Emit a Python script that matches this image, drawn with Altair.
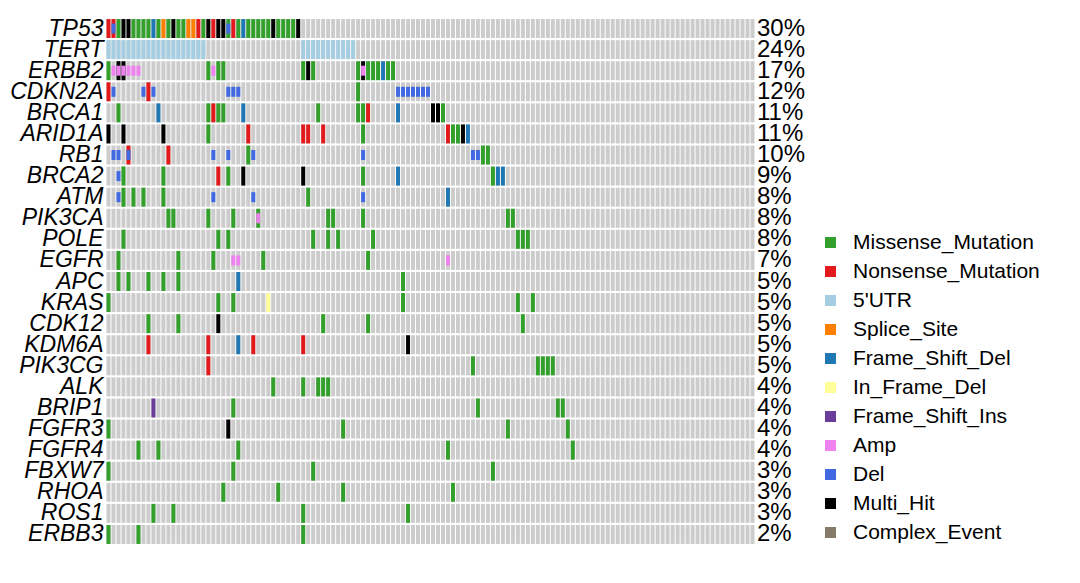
import altair as alt
import pandas as pd

genes = ["TP53", "TERT", "ERBB2", "CDKN2A", "BRCA1", "ARID1A", "RB1", "BRCA2", "ATM",
         "PIK3CA", "POLE", "EGFR", "APC", "KRAS", "CDK12", "KDM6A", "PIK3CG", "ALK",
         "BRIP1", "FGFR3", "FGFR4", "FBXW7", "RHOA", "ROS1", "ERBB3"]
pct_labels = ["30%", "24%", "17%", "12%", "11%", "11%", "10%", "9%", "8%", "8%", "8%", "7%",
              "5%", "5%", "5%", "5%", "5%", "4%", "4%", "4%", "4%", "3%", "3%", "3%", "2%"]
n_samples = 130

class_names = ["Missense_Mutation", "Nonsense_Mutation", "5'UTR", "Splice_Site",
               "Frame_Shift_Del", "In_Frame_Del", "Frame_Shift_Ins", "Amp", "Del",
               "Multi_Hit", "Complex_Event"]
class_colors = ["#33A02C", "#E31A1C", "#A6CEE3", "#FF7F00", "#1F78B4", "#FFFF99",
                "#6A3D9A", "#EE82EE", "#4169E1", "#000000", "#857B68"]
code_names = {"M": "Missense_Mutation", "N": "Nonsense_Mutation", "U": "5'UTR",
              "S": "Splice_Site", "D": "Frame_Shift_Del", "I": "In_Frame_Del",
              "F": "Frame_Shift_Ins", "A": "Amp", "L": "Del", "H": "Multi_Hit"}

# mutations per gene: code -> sample columns
TP53 = {"M": [2, 5, 6, 7, 8, 10, 12, 14, 15, 19, 24, 26, 28, 29, 30, 31, 32, 34, 35, 36, 37],
        "N": [0, 1, 18, 21, 25], "H": [3, 4, 13, 20, 22, 23, 33, 38], "D": [9, 27],
        "S": [11, 16, 17]}
TERT = {"U": [0, 1, 2, 3, 4, 5, 6, 7, 8, 9, 10, 11, 12, 13, 14, 15, 16, 17, 18, 19,
              39, 40, 41, 42, 43, 44, 45, 46, 47, 48, 49]}
ERBB2 = {"M": [0, 20, 22, 23, 39, 41, 50, 52, 53, 54, 56, 57], "H": [2, 3, 40, 51], "D": [55]}
CDKN2A = {"N": [0, 8], "M": [50]}
BRCA1 = {"M": [2, 20, 22, 23, 42, 50, 51, 67], "D": [10, 27, 58], "N": [21, 52], "H": [65, 66]}
ARID1A = {"H": [0, 3, 11, 71], "M": [20, 51, 69, 70], "N": [28, 39, 40, 43, 68], "D": [72]}
RB1 = {"N": [4, 12], "M": [28, 75, 76]}
BRCA2 = {"M": [3, 11, 24, 51, 77], "N": [22], "H": [27, 39], "D": [58, 78, 79]}
ATM = {"M": [3, 5, 7, 11, 40], "D": [68]}
PIK3CA = {"M": [12, 13, 20, 25, 30, 44, 45, 51, 80, 81]}
POLE = {"M": [3, 22, 24, 41, 44, 46, 53, 82, 83, 84]}
EGFR = {"M": [2, 14, 21, 31, 52]}
APC = {"M": [2, 4, 8, 11, 14, 59], "D": [26]}
KRAS = {"M": [0, 22, 25, 59, 82, 85], "I": [32]}
CDK12 = {"M": [8, 14, 43, 52, 83], "H": [22]}
KDM6A = {"N": [8, 20, 29, 39], "D": [26], "H": [60]}
PIK3CG = {"N": [20], "M": [73, 86, 87, 88, 89]}
ALK = {"M": [33, 39, 42, 43, 44]}
BRIP1 = {"F": [9], "M": [25, 74, 90, 91]}
FGFR3 = {"M": [0, 47, 80, 92], "H": [24]}
FGFR4 = {"M": [6, 10, 26, 68, 93]}
FBXW7 = {"M": [0, 25, 41, 77]}
RHOA = {"M": [23, 34, 47, 69]}
ROS1 = {"M": [9, 13, 39, 60]}
ERBB3 = {"M": [0, 6, 39]}

# copy-number events per gene (drawn as small inner boxes)
TP53_cnv = {"L": [1, 24]}
ERBB2_cnv = {"A": [1, 2, 3, 4, 5, 6, 21, 51]}
CDKN2A_cnv = {"L": [1, 7, 9, 24, 25, 26, 58, 59, 60, 61, 62, 63, 64]}
RB1_cnv = {"L": [1, 2, 4, 21, 24, 29, 51, 73, 74]}
BRCA2_cnv = {"L": [2]}
ATM_cnv = {"L": [2, 21, 29, 51]}
PIK3CA_cnv = {"A": [30]}
EGFR_cnv = {"A": [25, 26, 68]}

mut_lists = [TP53, TERT, ERBB2, CDKN2A, BRCA1, ARID1A, RB1, BRCA2, ATM, PIK3CA, POLE, EGFR,
             APC, KRAS, CDK12, KDM6A, PIK3CG, ALK, BRIP1, FGFR3, FGFR4, FBXW7, RHOA, ROS1, ERBB3]
cnv_lists = {"TP53": TP53_cnv, "ERBB2": ERBB2_cnv, "CDKN2A": CDKN2A_cnv, "RB1": RB1_cnv,
             "BRCA2": BRCA2_cnv, "ATM": ATM_cnv, "PIK3CA": PIK3CA_cnv, "EGFR": EGFR_cnv}

bg_rows = [{"gene": g, "sample": s} for g in genes for s in range(n_samples)]
mut_rows = []
for g, d in zip(genes, mut_lists):
    for code, cols in d.items():
        for c in cols:
            mut_rows.append({"gene": g, "sample": c, "cls": code_names[code]})
cnv_rows = []
for g, d in cnv_lists.items():
    for code, cols in d.items():
        for c in cols:
            cnv_rows.append({"gene": g, "sample": c, "cls": code_names[code]})
pct_rows = [{"gene": g, "pct": p} for g, p in zip(genes, pct_labels)]

bg_df = pd.DataFrame(bg_rows)
mut_df = pd.DataFrame(mut_rows)
cnv_df = pd.DataFrame(cnv_rows)
pct_df = pd.DataFrame(pct_rows)

FONT = "Liberation Sans"
xs = alt.Scale(domain=list(range(n_samples)), paddingInner=0.2, paddingOuter=0.1)
ys = alt.Scale(domain=genes, paddingInner=0.1, paddingOuter=0.05)
Y = alt.Y("gene:N", scale=ys, title=None,
          axis=alt.Axis(labelFont=FONT, labelFontSize=23, labelFontStyle="italic",
                        labelColor="black", ticks=False, domain=False, labelPadding=3,
                        labelOverlap=False))
X = alt.X("sample:O", scale=xs, axis=None, title=None)
color_scale = alt.Scale(domain=class_names, range=class_colors)

bg = alt.Chart(bg_df).mark_rect(color="#CCCCCC").encode(x=X, y=Y)

muts = alt.Chart(mut_df).mark_rect().encode(
    x=X, y=Y,
    color=alt.Color("cls:N", scale=color_scale,
                    legend=alt.Legend(orient="none", legendX=714, legendY=214, title=None,
                                      symbolType="square", symbolSize=121,
                                      symbolStrokeWidth=0, labelFont=FONT, labelFontSize=21,
                                      labelColor="black", rowPadding=7, labelOffset=12,
                                      padding=0, labelLimit=400)),
)

cnvs = alt.Chart(cnv_df).mark_tick(orient="vertical", thickness=4, size=10, opacity=1).encode(
    x=X, y=Y,
    color=alt.Color("cls:N", scale=color_scale, legend=None),
)

pct = alt.Chart(pct_df).mark_text(align="left", baseline="middle", font=FONT,
                                  fontSize=24, color="black").encode(
    x=alt.value(651), y=Y, text="pct:N")

chart = alt.layer(bg, muts, cnvs, pct).properties(
    width=649, height=527,
    autosize=alt.AutoSizeParams(type="none"),
    padding={"left": 98, "top": 10, "right": 317, "bottom": 12},
).configure_view(stroke=None)

chart.save("out.html", embed_options={"renderer": "svg", "actions": False})
